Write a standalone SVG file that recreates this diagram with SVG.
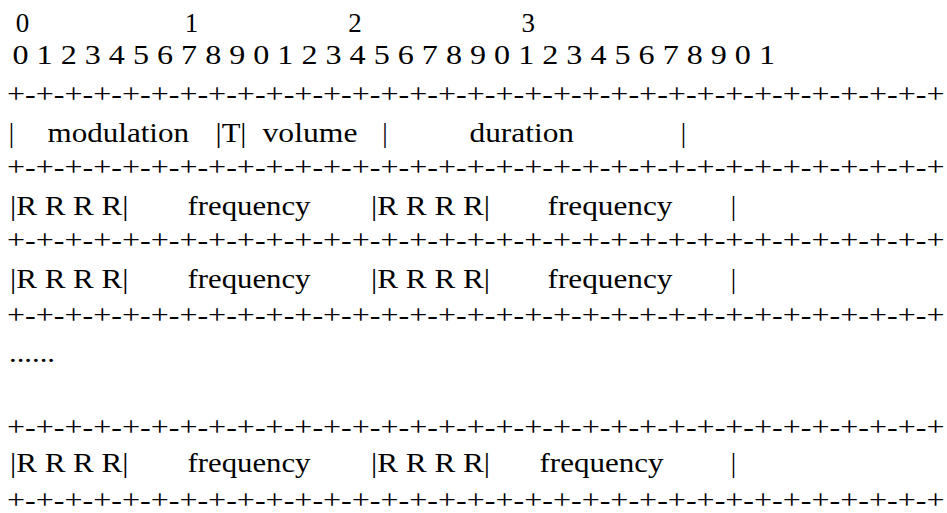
<svg xmlns="http://www.w3.org/2000/svg" width="947" height="513" viewBox="0 0 947 513">
<style>
text{font-family:"Liberation Serif","Times New Roman",serif;font-size:27px;fill:#000;white-space:pre}
.m{text-anchor:middle}
</style>
<rect x="0" y="0" width="947" height="513" fill="#fff"/>
<g id="ruler">
<text class="m" x="22.5" y="32">0</text>
<text class="m" x="191.5" y="32">1</text>
<text class="m" x="355" y="32">2</text>
<text class="m" x="528.3" y="32">3</text>
<text x="12.5" y="64" textLength="762.5" lengthAdjust="spacingAndGlyphs">0 1 2 3 4 5 6 7 8 9 0 1 2 3 4 5 6 7 8 9 0 1 2 3 4 5 6 7 8 9 0 1</text>
</g>
<g id="separators">
<text x="7" y="102.6" textLength="937.5" lengthAdjust="spacingAndGlyphs">+-+-+-+-+-+-+-+-+-+-+-+-+-+-+-+-+-+-+-+-+-+-+-+-+-+-+-+-+-+-+-+-+</text>
<text x="7" y="175.8" textLength="937.5" lengthAdjust="spacingAndGlyphs">+-+-+-+-+-+-+-+-+-+-+-+-+-+-+-+-+-+-+-+-+-+-+-+-+-+-+-+-+-+-+-+-+</text>
<text x="7" y="249.3" textLength="937.5" lengthAdjust="spacingAndGlyphs">+-+-+-+-+-+-+-+-+-+-+-+-+-+-+-+-+-+-+-+-+-+-+-+-+-+-+-+-+-+-+-+-+</text>
<text x="7" y="323.8" textLength="937.5" lengthAdjust="spacingAndGlyphs">+-+-+-+-+-+-+-+-+-+-+-+-+-+-+-+-+-+-+-+-+-+-+-+-+-+-+-+-+-+-+-+-+</text>
<text x="7" y="435.8" textLength="937.5" lengthAdjust="spacingAndGlyphs">+-+-+-+-+-+-+-+-+-+-+-+-+-+-+-+-+-+-+-+-+-+-+-+-+-+-+-+-+-+-+-+-+</text>
<text x="7" y="508.8" textLength="937.5" lengthAdjust="spacingAndGlyphs">+-+-+-+-+-+-+-+-+-+-+-+-+-+-+-+-+-+-+-+-+-+-+-+-+-+-+-+-+-+-+-+-+</text>
</g>
<g id="row-header">
<text class="m" x="11.5" y="141.7">|</text>
<text x="47.5" y="141.7" textLength="141.5" lengthAdjust="spacingAndGlyphs">modulation</text>
<text x="215.5" y="141.7" textLength="31" lengthAdjust="spacingAndGlyphs">|T|</text>
<text x="262.5" y="141.7" textLength="95" lengthAdjust="spacingAndGlyphs">volume</text>
<text class="m" x="385" y="141.7">|</text>
<text x="469.5" y="141.7" textLength="104.5" lengthAdjust="spacingAndGlyphs">duration</text>
<text class="m" x="683.5" y="141.7">|</text>
</g>
<g id="row-freq-1">
<text x="10" y="215" textLength="118.5" lengthAdjust="spacingAndGlyphs">|R R R R|</text>
<text x="187.5" y="215" textLength="123" lengthAdjust="spacingAndGlyphs">frequency</text>
<text x="371" y="215" textLength="119" lengthAdjust="spacingAndGlyphs">|R R R R|</text>
<text x="547.5" y="215" textLength="125" lengthAdjust="spacingAndGlyphs">frequency</text>
<text class="m" x="733.5" y="215">|</text>
</g>
<g id="row-freq-2">
<text x="10" y="288" textLength="118.5" lengthAdjust="spacingAndGlyphs">|R R R R|</text>
<text x="187.5" y="288" textLength="123" lengthAdjust="spacingAndGlyphs">frequency</text>
<text x="371" y="288" textLength="119" lengthAdjust="spacingAndGlyphs">|R R R R|</text>
<text x="547.5" y="288" textLength="125" lengthAdjust="spacingAndGlyphs">frequency</text>
<text class="m" x="733.5" y="288">|</text>
</g>
<g id="ellipsis">
<text x="9" y="361.5" textLength="46" lengthAdjust="spacingAndGlyphs">......</text>
</g>
<g id="row-freq-n">
<text x="10" y="471.7" textLength="118.5" lengthAdjust="spacingAndGlyphs">|R R R R|</text>
<text x="187.5" y="471.7" textLength="123" lengthAdjust="spacingAndGlyphs">frequency</text>
<text x="371" y="471.7" textLength="119" lengthAdjust="spacingAndGlyphs">|R R R R|</text>
<text x="539.5" y="471.7" textLength="124" lengthAdjust="spacingAndGlyphs">frequency</text>
<text class="m" x="733.5" y="471.7">|</text>
</g>
</svg>
